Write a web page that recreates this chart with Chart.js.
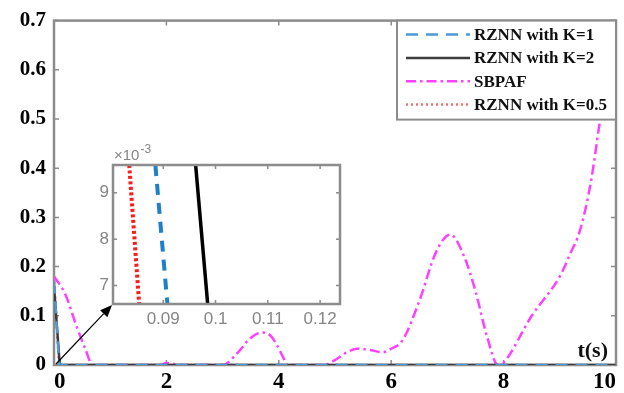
<!DOCTYPE html>
<html lang="en">
<head>
<meta charset="UTF-8">
<title>RZNN residual error</title>
<script src="https://cdn.jsdelivr.net/npm/chart.js"></script>
<style>
    body { margin: 0; background: #fff; }
    .wrap { position: relative; width: 624px; height: 393px; }
    #mainChart { position: absolute; left: 0; top: 0; }
    #insetChart { position: absolute; left: 70px; top: 140px; }
</style>
</head>
<body>
<div class="wrap">
    <canvas id="mainChart" width="624" height="393"></canvas>
    <canvas id="insetChart" width="280" height="190"></canvas>
</div>
<script>
// main plot: error vs t(s)
const timeSbpaf = [0, 0.2, 0.41, 0.55, 0.69, 1.0, 1.9, 2.0, 2.1, 2.25, 3.0, 3.26, 3.49, 3.7, 3.85, 3.97, 4.08, 4.15, 4.8, 5.0, 5.2, 5.4, 5.6, 5.85, 6.0, 6.2, 6.5, 6.8, 7.05, 7.3, 7.5, 7.7, 7.9, 8.0, 8.5, 9.0, 9.2, 9.35, 9.55, 9.72, 9.9, 10];
const errSbpaf  = [0.18, 0.144, 0.076, 0.035, 0, 0, 0, 0.004, 0.003, 0, 0, 0.024, 0.054, 0.066, 0.06, 0.04, 0.015, 0, 0, 0.01, 0.025, 0.033, 0.031, 0.026, 0.033, 0.05, 0.13, 0.23, 0.265, 0.22, 0.15, 0.06, 0, 0.005, 0.1, 0.18, 0.23, 0.27, 0.37, 0.5, 0.62, 0.69];
const timeK05 = [0, 0.0835, 0.0854, 0.09, 10];
const errK05  = [0.18, 0.0096, 0.0066, 0, 0];
const timeK1  = [0, 0.0885, 0.0908, 0.095, 10];
const errK1   = [0.17, 0.0096, 0.0066, 0, 0];
const timeK2  = [0, 0.0962, 0.0985, 0.103, 10];
const errK2   = [0.16, 0.0096, 0.0066, 0, 0];
const xTicks = [0, 2, 4, 6, 8, 10];
const yTicks = [0, 0.1, 0.2, 0.3, 0.4, 0.5, 0.6, 0.7];
const yLabels = ['0', '0.1', '0.2', '0.3', '0.4', '0.5', '0.6', '0.7'];
const seriesNames = ['RZNN with K=1', 'RZNN with K=2', 'SBPAF', 'RZNN with K=0.5'];

// zoomed window around t = 0.09
const zoomErr = [0.0096, 0.0066];
const zoomTimeK05 = [0.0835, 0.0854];
const zoomTimeK1  = [0.0885, 0.0908];
const zoomTimeK2  = [0.0962, 0.0985];
const zoomXTicks = [0.09, 0.1, 0.11, 0.12];
const zoomXLabels = ['0.09', '0.1', '0.11', '0.12'];
const zoomYTicks = [0.007, 0.008, 0.009];
const zoomYLabels = ['7', '8', '9'];

const INSET_X = 70, INSET_Y = 140;
const frameColor = '#8c8c8c';

function toPoints(xs, ys) {
    return xs.map((x, i) => ({ x: x, y: ys[i] }));
}

function fixTicks(values) {
    return function (scale) {
        scale.ticks = values.map(v => ({ value: v }));
    };
}

// gray box + inward tick marks, matlab style
function drawBox(chart, len) {
    const ctx = chart.ctx;
    const a = chart.chartArea;
    const xs = chart.scales.x, ys = chart.scales.y;
    ctx.save();
    ctx.strokeStyle = frameColor;
    ctx.lineWidth = 1.5;
    xs.ticks.forEach(t => {
        const px = xs.getPixelForValue(t.value);
        ctx.beginPath();
        ctx.moveTo(px, a.bottom); ctx.lineTo(px, a.bottom - len);
        ctx.moveTo(px, a.top); ctx.lineTo(px, a.top + len);
        ctx.stroke();
    });
    ys.ticks.forEach(t => {
        const py = ys.getPixelForValue(t.value);
        ctx.beginPath();
        ctx.moveTo(a.left, py); ctx.lineTo(a.left + len, py);
        ctx.moveTo(a.right, py); ctx.lineTo(a.right - len, py);
        ctx.stroke();
    });
    ctx.lineWidth = 2.5;
    ctx.strokeRect(a.left, a.top, a.right - a.left, a.bottom - a.top);
    ctx.restore();
}

const insetPlugin = {
    id: 'insetBox',
    beforeDraw(chart) {
        const a = chart.chartArea;
        chart.ctx.save();
        chart.ctx.fillStyle = '#fff';
        chart.ctx.fillRect(a.left, a.top, a.right - a.left, a.bottom - a.top);
        chart.ctx.restore();
    },
    afterDraw(chart) {
        drawBox(chart, 4);
        const ctx = chart.ctx;
        const a = chart.chartArea;
        ctx.save();
        ctx.fillStyle = '#858585';
        ctx.textBaseline = 'alphabetic';
        ctx.font = '15px "Liberation Sans"';
        ctx.fillText('\u00d710', a.left + 1, a.top - 5);
        const w = ctx.measureText('\u00d710').width;
        ctx.font = '12px "Liberation Sans"';
        ctx.fillText('-3', a.left + 2 + w, a.top - 12);
        ctx.restore();
    }
};

const insetChart = new Chart(document.getElementById('insetChart'), {
    type: 'line',
    data: {
        datasets: [
            { data: toPoints(zoomTimeK05, zoomErr), borderColor: '#ff1a1a', borderWidth: 4, borderDash: [3, 2.5] },
            { data: toPoints(zoomTimeK1, zoomErr), borderColor: '#1f7fc8', borderWidth: 4, borderDash: [11, 8] },
            { data: toPoints(zoomTimeK2, zoomErr), borderColor: '#000', borderWidth: 3.5 }
        ]
    },
    options: {
        responsive: false,
        animation: false,
        layout: { padding: { top: 25, right: 10, left: 0, bottom: 0 } },
        elements: { point: { radius: 0 }, line: { tension: 0 } },
        plugins: { legend: { display: false }, tooltip: { enabled: false } },
        scales: {
            x: {
                type: 'linear', min: 0.0804, max: 0.1238,
                afterBuildTicks: fixTicks(zoomXTicks),
                afterFit: s => { s.height = 26; },
                grid: { display: false, drawTicks: false },
                border: { display: false },
                ticks: {
                    padding: 5, color: '#858585',
                    font: { family: 'Liberation Sans', size: 17 },
                    callback: (v, i) => zoomXLabels[i]
                }
            },
            y: {
                type: 'linear', min: 0.0066, max: 0.0096,
                afterBuildTicks: fixTicks(zoomYTicks),
                afterFit: s => { s.width = 43; },
                grid: { display: false, drawTicks: false },
                border: { display: false },
                ticks: {
                    padding: 4, color: '#858585',
                    font: { family: 'Liberation Sans', size: 17 },
                    callback: (v, i) => zoomYLabels[i]
                }
            }
        }
    },
    plugins: [insetPlugin]
});

const lineStyles = [
    { color: '#4a9ad8', width: 2.5, dash: [12, 8] },
    { color: '#3c3c3c', width: 2.5, dash: [] },
    { color: '#ff40ff', width: 2.5, dash: [10, 4, 2.5, 4] },
    { color: '#f07070', width: 2.5, dash: [2, 3] }
];

const mainPlugin = {
    id: 'matlabLook',
    beforeDatasetsDraw(chart) {
        drawBox(chart, 5);
    },
    afterDraw(chart) {
        const ctx = chart.ctx;
        const a = chart.chartArea;
        ctx.save();

        // legend in the upper right corner
        const lx = 397, ly = a.top, lw = a.right - lx, lh = 99;
        ctx.fillStyle = '#fff';
        ctx.fillRect(lx, ly, lw, lh);
        ctx.strokeStyle = frameColor;
        ctx.lineWidth = 2;
        ctx.strokeRect(lx, ly, lw, lh);
        ctx.font = 'bold 17px "Liberation Serif"';
        ctx.textBaseline = 'middle';
        seriesNames.forEach((name, i) => {
            const y = ly + 14 + i * 23.3;
            const st = lineStyles[i];
            ctx.strokeStyle = st.color;
            ctx.lineWidth = st.width;
            ctx.setLineDash(st.dash);
            ctx.beginPath();
            ctx.moveTo(406, y);
            ctx.lineTo(470, y);
            ctx.stroke();
            ctx.setLineDash([]);
            ctx.fillStyle = '#111';
            ctx.fillText(name, 474, y + 1);
        });

        // axis name
        ctx.font = 'bold 22px "Liberation Serif"';
        ctx.textAlign = 'right';
        ctx.textBaseline = 'alphabetic';
        ctx.fillText('t(s)', a.right - 8, a.bottom - 8);

        // arrow from origin to the zoomed window
        const sx = chart.scales.x.getPixelForValue(0) + 2;
        const sy = chart.scales.y.getPixelForValue(0) - 1;
        const ia = insetChart.chartArea;
        const ex = INSET_X + ia.left - 1, ey = INSET_Y + ia.bottom + 1;
        const ang = Math.atan2(ey - sy, ex - sx);
        const hl = 12, hw = 5;
        ctx.strokeStyle = '#000';
        ctx.lineWidth = 1.2;
        ctx.beginPath();
        ctx.moveTo(sx, sy);
        ctx.lineTo(ex - hl * Math.cos(ang), ey - hl * Math.sin(ang));
        ctx.stroke();
        ctx.fillStyle = '#000';
        ctx.beginPath();
        ctx.moveTo(ex, ey);
        ctx.lineTo(ex - hl * Math.cos(ang) + hw * Math.sin(ang), ey - hl * Math.sin(ang) - hw * Math.cos(ang));
        ctx.lineTo(ex - hl * Math.cos(ang) - hw * Math.sin(ang), ey - hl * Math.sin(ang) + hw * Math.cos(ang));
        ctx.closePath();
        ctx.fill();
        ctx.restore();
    }
};

const seriesData = [
    toPoints(timeK1, errK1),
    toPoints(timeK2, errK2),
    toPoints(timeSbpaf, errSbpaf),
    toPoints(timeK05, errK05)
];

new Chart(document.getElementById('mainChart'), {
    type: 'line',
    data: {
        datasets: seriesNames.map((name, i) => ({
            label: name,
            data: seriesData[i],
            borderColor: lineStyles[i].color,
            borderWidth: lineStyles[i].width,
            borderDash: lineStyles[i].dash,
            cubicInterpolationMode: name === 'SBPAF' ? 'monotone' : 'default',
            tension: 0
        }))
    },
    options: {
        responsive: false,
        animation: false,
        layout: { padding: { top: 14, right: 8, left: 0, bottom: 0 } },
        elements: { point: { radius: 0 } },
        plugins: { legend: { display: false }, tooltip: { enabled: false } },
        scales: {
            x: {
                type: 'linear', min: 0, max: 10,
                afterBuildTicks: fixTicks(xTicks),
                afterFit: s => { s.height = 28; },
                grid: { display: false, drawTicks: false },
                border: { display: false },
                ticks: {
                    padding: 3, color: '#000', align: 'inner',
                    font: { family: 'Liberation Serif', size: 23, weight: 'bold' },
                    callback: v => String(v)
                }
            },
            y: {
                type: 'linear', min: 0, max: 0.7,
                afterBuildTicks: fixTicks(yTicks),
                afterFit: s => { s.width = 54; },
                grid: { display: false, drawTicks: false },
                border: { display: false },
                ticks: {
                    padding: 8, color: '#000',
                    font: { family: 'Liberation Serif', size: 21, weight: 'bold' },
                    callback: (v, i) => yLabels[i]
                }
            }
        }
    },
    plugins: [mainPlugin]
});
</script>
</body>
</html>
